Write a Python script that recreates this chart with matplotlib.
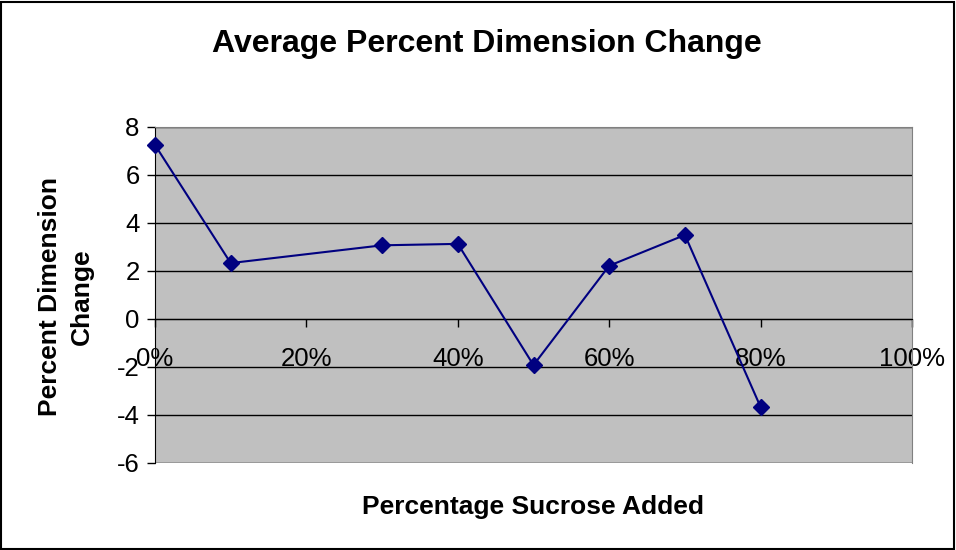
import matplotlib
matplotlib.use("Agg")
from matplotlib import pyplot as plt
from matplotlib.patches import Rectangle
from matplotlib.ticker import PercentFormatter

sucrose = [0.0, 0.1, 0.3, 0.4, 0.5, 0.6, 0.7, 0.8]
change = [7.25, 2.33, 3.07, 3.13, -1.92, 2.22, 3.5, -3.67]
x_ticks = [0.0, 0.2, 0.4, 0.6, 0.8, 1.0]
y_ticks = [-6, -4, -2, 0, 2, 4, 6, 8]

plt.rcParams["font.family"] = ["Liberation Sans", "DejaVu Sans"]
plt.rcParams["axes.unicode_minus"] = False

fig = plt.figure(figsize=(9.56, 5.5), dpi=100)
ax = fig.add_axes([155 / 956, 1 - 463 / 550, (912 - 155) / 956, (463 - 127) / 550])
ax.set_facecolor("#c0c0c0")

ax.plot(sucrose, change, color="#000080", linewidth=1.5, marker="D",
        markersize=8, markerfacecolor="#000080", markeredgecolor="#000080",
        zorder=5, clip_on=False)

ax.set_xlim(0, 1)
ax.set_ylim(-6, 8)
ax.set_yticks(y_ticks)
ax.set_xticks(x_ticks)
ax.xaxis.set_major_formatter(PercentFormatter(1.0, decimals=0))
ax.grid(axis="y", color="black", linewidth=1)
ax.set_axisbelow(True)

ax.spines["bottom"].set_position(("data", 0))
ax.spines["bottom"].set_color("black")
ax.spines["left"].set_color("black")
ax.spines["top"].set_color("#808080")
ax.spines["right"].set_color("#808080")
ax.tick_params(axis="both", direction="out", length=6, width=1, labelsize=18.5, colors="black")
ax.tick_params(axis="x", pad=14)
ax.tick_params(axis="y", pad=5)

fig.text(487 / 956, 1 - 44 / 550, "Average Percent Dimension Change", ha="center", va="center",
         fontsize=23, fontweight="bold")
fig.text(533 / 956, 1 - 507 / 550, "Percentage Sucrose Added", ha="center", va="center",
         fontsize=19, fontweight="bold")
fig.text(66 / 956, 1 - 297 / 550, "Percent Dimension\nChange", ha="center", va="center",
         rotation=90, fontsize=19, fontweight="bold", linespacing=1.4)

fig.patches.append(Rectangle((1 / 956, 1 / 550), 953 / 956, 547 / 550, transform=fig.transFigure,
                             fill=False, edgecolor="black", linewidth=1.5))

fig.savefig("out.png", dpi=100)
